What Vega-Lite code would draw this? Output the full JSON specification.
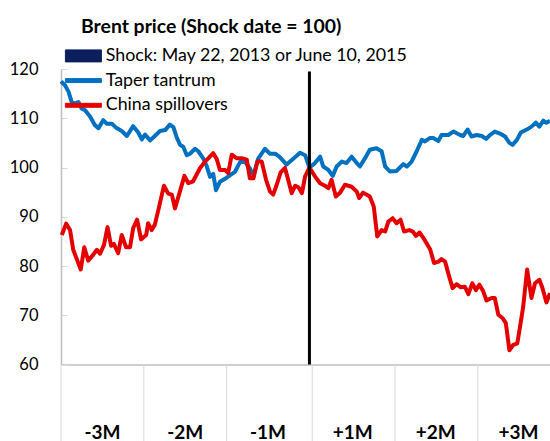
{
  "$schema": "https://vega.github.io/schema/vega-lite/v6.json",
  "autosize": "none",
  "width": 489,
  "height": 295.5,
  "padding": {"left": 61, "top": 69, "right": 0, "bottom": 76.5},
  "background": "white",
  "config": {"view": {"stroke": null}, "font": "Lato"},
  "title": {"text": "Brent price (Shock date = 100)", "anchor": "start", "frame": "group", "font": "Lato", "fontSize": 19.4, "fontWeight": "bold", "color": "black", "dx": 20, "offset": 10},
  "datasets": {
    "series": [
      {"series": "Taper tantrum", "day": -63, "value": 117.5},
      {"series": "Taper tantrum", "day": -62.0, "value": 116.7},
      {"series": "Taper tantrum", "day": -61.1, "value": 115.4},
      {"series": "Taper tantrum", "day": -60.3, "value": 113.3},
      {"series": "Taper tantrum", "day": -59.5, "value": 113.0},
      {"series": "Taper tantrum", "day": -58.6, "value": 113.3},
      {"series": "Taper tantrum", "day": -57.8, "value": 112.0},
      {"series": "Taper tantrum", "day": -56.9, "value": 111.6},
      {"series": "Taper tantrum", "day": -55.6, "value": 110.3},
      {"series": "Taper tantrum", "day": -54.4, "value": 108.6},
      {"series": "Taper tantrum", "day": -53.5, "value": 108.0},
      {"series": "Taper tantrum", "day": -52.3, "value": 109.6},
      {"series": "Taper tantrum", "day": -51.4, "value": 108.9},
      {"series": "Taper tantrum", "day": -50.1, "value": 108.9},
      {"series": "Taper tantrum", "day": -48.9, "value": 108.0},
      {"series": "Taper tantrum", "day": -47.6, "value": 107.4},
      {"series": "Taper tantrum", "day": -46.3, "value": 106.4},
      {"series": "Taper tantrum", "day": -44.7, "value": 108.4},
      {"series": "Taper tantrum", "day": -43.4, "value": 107.1},
      {"series": "Taper tantrum", "day": -42.5, "value": 105.7},
      {"series": "Taper tantrum", "day": -41.7, "value": 106.7},
      {"series": "Taper tantrum", "day": -40.4, "value": 105.5},
      {"series": "Taper tantrum", "day": -39.2, "value": 106.4},
      {"series": "Taper tantrum", "day": -37.9, "value": 107.4},
      {"series": "Taper tantrum", "day": -36.6, "value": 107.6},
      {"series": "Taper tantrum", "day": -35.4, "value": 108.7},
      {"series": "Taper tantrum", "day": -34.5, "value": 108.2},
      {"series": "Taper tantrum", "day": -33.7, "value": 106.2},
      {"series": "Taper tantrum", "day": -32.8, "value": 104.6},
      {"series": "Taper tantrum", "day": -32.0, "value": 104.2},
      {"series": "Taper tantrum", "day": -31.1, "value": 102.5},
      {"series": "Taper tantrum", "day": -30.3, "value": 102.8},
      {"series": "Taper tantrum", "day": -29.0, "value": 103.8},
      {"series": "Taper tantrum", "day": -28.2, "value": 103.3},
      {"series": "Taper tantrum", "day": -26.9, "value": 101.8},
      {"series": "Taper tantrum", "day": -26.1, "value": 100.4},
      {"series": "Taper tantrum", "day": -25.2, "value": 98.1},
      {"series": "Taper tantrum", "day": -24.4, "value": 98.7},
      {"series": "Taper tantrum", "day": -23.7, "value": 95.4},
      {"series": "Taper tantrum", "day": -22.7, "value": 97.1},
      {"series": "Taper tantrum", "day": -21.4, "value": 97.7},
      {"series": "Taper tantrum", "day": -20.2, "value": 98.4},
      {"series": "Taper tantrum", "day": -18.9, "value": 99.1},
      {"series": "Taper tantrum", "day": -17.6, "value": 101.1},
      {"series": "Taper tantrum", "day": -16.3, "value": 101.1},
      {"series": "Taper tantrum", "day": -15.1, "value": 99.8},
      {"series": "Taper tantrum", "day": -14.2, "value": 98.4},
      {"series": "Taper tantrum", "day": -13.0, "value": 101.8},
      {"series": "Taper tantrum", "day": -11.3, "value": 103.8},
      {"series": "Taper tantrum", "day": -10.0, "value": 102.8},
      {"series": "Taper tantrum", "day": -8.7, "value": 102.8},
      {"series": "Taper tantrum", "day": -7.5, "value": 102.1},
      {"series": "Taper tantrum", "day": -5.8, "value": 100.6},
      {"series": "Taper tantrum", "day": -4.1, "value": 101.8},
      {"series": "Taper tantrum", "day": -2.4, "value": 103.0},
      {"series": "Taper tantrum", "day": -1.1, "value": 102.5},
      {"series": "Taper tantrum", "day": 0, "value": 100},
      {"series": "Taper tantrum", "day": 1.4, "value": 100.9},
      {"series": "Taper tantrum", "day": 2.7, "value": 102.2},
      {"series": "Taper tantrum", "day": 3.5, "value": 100.2},
      {"series": "Taper tantrum", "day": 4.8, "value": 99.5},
      {"series": "Taper tantrum", "day": 5.9, "value": 98.3},
      {"series": "Taper tantrum", "day": 6.9, "value": 100.2},
      {"series": "Taper tantrum", "day": 8.2, "value": 101.2},
      {"series": "Taper tantrum", "day": 9.4, "value": 100.9},
      {"series": "Taper tantrum", "day": 10.7, "value": 102.2},
      {"series": "Taper tantrum", "day": 12.0, "value": 100.9},
      {"series": "Taper tantrum", "day": 12.8, "value": 100.2},
      {"series": "Taper tantrum", "day": 14.1, "value": 101.9},
      {"series": "Taper tantrum", "day": 15.3, "value": 103.6},
      {"series": "Taper tantrum", "day": 17.0, "value": 103.9},
      {"series": "Taper tantrum", "day": 18.3, "value": 103.3},
      {"series": "Taper tantrum", "day": 19.2, "value": 100.2},
      {"series": "Taper tantrum", "day": 20.4, "value": 99.2},
      {"series": "Taper tantrum", "day": 22.1, "value": 99.3},
      {"series": "Taper tantrum", "day": 23.8, "value": 100.7},
      {"series": "Taper tantrum", "day": 24.7, "value": 100.2},
      {"series": "Taper tantrum", "day": 25.9, "value": 101.2},
      {"series": "Taper tantrum", "day": 27.2, "value": 103.3},
      {"series": "Taper tantrum", "day": 28.5, "value": 105.6},
      {"series": "Taper tantrum", "day": 29.3, "value": 105.3},
      {"series": "Taper tantrum", "day": 30.6, "value": 106.0},
      {"series": "Taper tantrum", "day": 31.4, "value": 106.0},
      {"series": "Taper tantrum", "day": 32.7, "value": 105.4},
      {"series": "Taper tantrum", "day": 33.5, "value": 106.6},
      {"series": "Taper tantrum", "day": 35.2, "value": 106.6},
      {"series": "Taper tantrum", "day": 36.5, "value": 107.3},
      {"series": "Taper tantrum", "day": 38.2, "value": 106.6},
      {"series": "Taper tantrum", "day": 39.0, "value": 106.4},
      {"series": "Taper tantrum", "day": 40.1, "value": 107.7},
      {"series": "Taper tantrum", "day": 41.1, "value": 106.3},
      {"series": "Taper tantrum", "day": 42.4, "value": 106.6},
      {"series": "Taper tantrum", "day": 43.7, "value": 106.4},
      {"series": "Taper tantrum", "day": 44.8, "value": 105.8},
      {"series": "Taper tantrum", "day": 45.8, "value": 106.6},
      {"series": "Taper tantrum", "day": 47.0, "value": 107.3},
      {"series": "Taper tantrum", "day": 48.3, "value": 106.9},
      {"series": "Taper tantrum", "day": 49.6, "value": 106.3},
      {"series": "Taper tantrum", "day": 50.7, "value": 105.0},
      {"series": "Taper tantrum", "day": 51.5, "value": 104.6},
      {"series": "Taper tantrum", "day": 52.6, "value": 105.6},
      {"series": "Taper tantrum", "day": 53.6, "value": 107.1},
      {"series": "Taper tantrum", "day": 55.1, "value": 107.7},
      {"series": "Taper tantrum", "day": 56.3, "value": 108.3},
      {"series": "Taper tantrum", "day": 57.4, "value": 109.1},
      {"series": "Taper tantrum", "day": 58.3, "value": 108.3},
      {"series": "Taper tantrum", "day": 59.3, "value": 109.5},
      {"series": "Taper tantrum", "day": 60.1, "value": 109.1},
      {"series": "Taper tantrum", "day": 61.0, "value": 109.5},
      {"series": "China spillovers", "day": -62.8, "value": 86.3},
      {"series": "China spillovers", "day": -61.7, "value": 88.6},
      {"series": "China spillovers", "day": -60.7, "value": 87.3},
      {"series": "China spillovers", "day": -59.9, "value": 83.3},
      {"series": "China spillovers", "day": -58.9, "value": 81.2},
      {"series": "China spillovers", "day": -58.0, "value": 79.3},
      {"series": "China spillovers", "day": -57.1, "value": 83.8},
      {"series": "China spillovers", "day": -56.1, "value": 81.1},
      {"series": "China spillovers", "day": -54.8, "value": 82.3},
      {"series": "China spillovers", "day": -53.9, "value": 83.3},
      {"series": "China spillovers", "day": -53.1, "value": 82.5},
      {"series": "China spillovers", "day": -52.1, "value": 84.3},
      {"series": "China spillovers", "day": -51.2, "value": 87.9},
      {"series": "China spillovers", "day": -50.3, "value": 84.1},
      {"series": "China spillovers", "day": -49.6, "value": 84.5},
      {"series": "China spillovers", "day": -48.5, "value": 82.6},
      {"series": "China spillovers", "day": -47.6, "value": 86.3},
      {"series": "China spillovers", "day": -46.5, "value": 83.8},
      {"series": "China spillovers", "day": -45.5, "value": 83.8},
      {"series": "China spillovers", "day": -44.7, "value": 87.7},
      {"series": "China spillovers", "day": -43.7, "value": 89.4},
      {"series": "China spillovers", "day": -42.7, "value": 85.4},
      {"series": "China spillovers", "day": -41.4, "value": 86.3},
      {"series": "China spillovers", "day": -40.9, "value": 88.7},
      {"series": "China spillovers", "day": -40.0, "value": 87.3},
      {"series": "China spillovers", "day": -39.2, "value": 88.4},
      {"series": "China spillovers", "day": -38.1, "value": 92.1},
      {"series": "China spillovers", "day": -36.9, "value": 96.3},
      {"series": "China spillovers", "day": -35.8, "value": 94.7},
      {"series": "China spillovers", "day": -34.9, "value": 94.5},
      {"series": "China spillovers", "day": -34.1, "value": 91.7},
      {"series": "China spillovers", "day": -33.0, "value": 94.7},
      {"series": "China spillovers", "day": -31.7, "value": 98.3},
      {"series": "China spillovers", "day": -30.7, "value": 96.8},
      {"series": "China spillovers", "day": -29.5, "value": 97.2},
      {"series": "China spillovers", "day": -27.8, "value": 99.8},
      {"series": "China spillovers", "day": -26.5, "value": 101.2},
      {"series": "China spillovers", "day": -25.6, "value": 101.9},
      {"series": "China spillovers", "day": -24.4, "value": 102.9},
      {"series": "China spillovers", "day": -23.5, "value": 101.7},
      {"series": "China spillovers", "day": -22.7, "value": 99.5},
      {"series": "China spillovers", "day": -21.4, "value": 99.5},
      {"series": "China spillovers", "day": -20.6, "value": 98.9},
      {"series": "China spillovers", "day": -19.7, "value": 102.6},
      {"series": "China spillovers", "day": -18.5, "value": 101.9},
      {"series": "China spillovers", "day": -17.2, "value": 101.9},
      {"series": "China spillovers", "day": -15.9, "value": 101.6},
      {"series": "China spillovers", "day": -15.1, "value": 97.8},
      {"series": "China spillovers", "day": -14.2, "value": 97.8},
      {"series": "China spillovers", "day": -13.2, "value": 101.2},
      {"series": "China spillovers", "day": -12.1, "value": 101.2},
      {"series": "China spillovers", "day": -11.0, "value": 97.5},
      {"series": "China spillovers", "day": -10.0, "value": 95.1},
      {"series": "China spillovers", "day": -9.2, "value": 94.5},
      {"series": "China spillovers", "day": -8.3, "value": 96.5},
      {"series": "China spillovers", "day": -7.3, "value": 99.0},
      {"series": "China spillovers", "day": -6.2, "value": 99.9},
      {"series": "China spillovers", "day": -5.3, "value": 97.2},
      {"series": "China spillovers", "day": -4.5, "value": 94.8},
      {"series": "China spillovers", "day": -3.6, "value": 96.3},
      {"series": "China spillovers", "day": -2.8, "value": 96.0},
      {"series": "China spillovers", "day": -1.9, "value": 94.8},
      {"series": "China spillovers", "day": -1.1, "value": 98.2},
      {"series": "China spillovers", "day": -0.3, "value": 99.5},
      {"series": "China spillovers", "day": 0, "value": 100},
      {"series": "China spillovers", "day": 1.4, "value": 98.2},
      {"series": "China spillovers", "day": 2.7, "value": 96.8},
      {"series": "China spillovers", "day": 3.9, "value": 96.3},
      {"series": "China spillovers", "day": 4.8, "value": 95.8},
      {"series": "China spillovers", "day": 5.6, "value": 97.5},
      {"series": "China spillovers", "day": 6.7, "value": 94.1},
      {"series": "China spillovers", "day": 7.7, "value": 94.8},
      {"series": "China spillovers", "day": 9.0, "value": 96.5},
      {"series": "China spillovers", "day": 10.7, "value": 96.1},
      {"series": "China spillovers", "day": 12.0, "value": 95.1},
      {"series": "China spillovers", "day": 12.6, "value": 93.8},
      {"series": "China spillovers", "day": 13.6, "value": 94.9},
      {"series": "China spillovers", "day": 15.3, "value": 94.1},
      {"series": "China spillovers", "day": 16.3, "value": 92.1},
      {"series": "China spillovers", "day": 17.2, "value": 86.0},
      {"series": "China spillovers", "day": 18.3, "value": 87.3},
      {"series": "China spillovers", "day": 19.2, "value": 87.0},
      {"series": "China spillovers", "day": 20.0, "value": 89.0},
      {"series": "China spillovers", "day": 21.1, "value": 89.7},
      {"series": "China spillovers", "day": 22.1, "value": 88.7},
      {"series": "China spillovers", "day": 23.1, "value": 89.4},
      {"series": "China spillovers", "day": 24.0, "value": 87.0},
      {"series": "China spillovers", "day": 25.3, "value": 87.3},
      {"series": "China spillovers", "day": 26.2, "value": 87.0},
      {"series": "China spillovers", "day": 27.0, "value": 86.1},
      {"series": "China spillovers", "day": 27.9, "value": 86.8},
      {"series": "China spillovers", "day": 28.9, "value": 85.7},
      {"series": "China spillovers", "day": 30.6, "value": 83.4},
      {"series": "China spillovers", "day": 31.6, "value": 80.6},
      {"series": "China spillovers", "day": 32.7, "value": 80.9},
      {"series": "China spillovers", "day": 33.5, "value": 81.4},
      {"series": "China spillovers", "day": 34.4, "value": 80.9},
      {"series": "China spillovers", "day": 35.2, "value": 78.5},
      {"series": "China spillovers", "day": 36.3, "value": 75.5},
      {"series": "China spillovers", "day": 37.3, "value": 76.3},
      {"series": "China spillovers", "day": 38.3, "value": 75.7},
      {"series": "China spillovers", "day": 39.4, "value": 75.8},
      {"series": "China spillovers", "day": 40.3, "value": 74.3},
      {"series": "China spillovers", "day": 41.3, "value": 76.5},
      {"series": "China spillovers", "day": 42.2, "value": 75.1},
      {"series": "China spillovers", "day": 43.1, "value": 76.2},
      {"series": "China spillovers", "day": 44.1, "value": 74.8},
      {"series": "China spillovers", "day": 44.9, "value": 73.0},
      {"series": "China spillovers", "day": 46.2, "value": 73.5},
      {"series": "China spillovers", "day": 47.0, "value": 73.5},
      {"series": "China spillovers", "day": 47.9, "value": 70.1},
      {"series": "China spillovers", "day": 49.0, "value": 69.4},
      {"series": "China spillovers", "day": 49.8, "value": 68.4},
      {"series": "China spillovers", "day": 50.7, "value": 62.9},
      {"series": "China spillovers", "day": 51.7, "value": 64.0},
      {"series": "China spillovers", "day": 52.7, "value": 64.3},
      {"series": "China spillovers", "day": 53.4, "value": 67.7},
      {"series": "China spillovers", "day": 54.2, "value": 71.7},
      {"series": "China spillovers", "day": 55.2, "value": 79.3},
      {"series": "China spillovers", "day": 56.3, "value": 73.5},
      {"series": "China spillovers", "day": 57.2, "value": 76.5},
      {"series": "China spillovers", "day": 58.3, "value": 77.2},
      {"series": "China spillovers", "day": 59.1, "value": 75.5},
      {"series": "China spillovers", "day": 60.1, "value": 72.6},
      {"series": "China spillovers", "day": 61.0, "value": 74.5}
    ],
    "shock": [{"day": 0, "from": 60, "to": 119.5}],
    "separators": [
      {"day": -63, "from": 60, "to": 44},
      {"day": -42, "from": 60, "to": 44},
      {"day": -21, "from": 60, "to": 44},
      {"day": 0.7, "from": 60, "to": 44},
      {"day": 21.7, "from": 60, "to": 44},
      {"day": 42.7, "from": 60, "to": 44}
    ],
    "periods": [
      {"day": -52.5, "label": "-3M", "level": 44.9},
      {"day": -31.5, "label": "-2M", "level": 44.9},
      {"day": -10.5, "label": "-1M", "level": 44.9},
      {"day": 11, "label": "+1M", "level": 44.9},
      {"day": 32, "label": "+2M", "level": 44.9},
      {"day": 53, "label": "+3M", "level": 44.9}
    ]
  },
  "layer": [
    {
      "data": {"name": "separators"},
      "mark": {"type": "rule", "color": "#d9d9d9", "strokeWidth": 1},
      "encoding": {
        "x": {"field": "day", "type": "quantitative"},
        "y": {"field": "from", "type": "quantitative"},
        "y2": {"field": "to"}
      }
    },
    {
      "data": {"name": "periods"},
      "mark": {"type": "text", "font": "Lato", "fontSize": 19, "fontWeight": "bold", "color": "black", "baseline": "alphabetic", "align": "center"},
      "encoding": {
        "x": {"field": "day", "type": "quantitative"},
        "y": {"field": "level", "type": "quantitative"},
        "text": {"field": "label"}
      }
    },
    {
      "data": {"name": "series"},
      "mark": {"type": "line", "strokeWidth": 4, "strokeJoin": "round"},
      "encoding": {
        "x": {"field": "day", "type": "quantitative", "scale": {"domain": [-63, 61], "nice": false, "zero": false},
              "axis": {"title": null, "labels": false, "ticks": false, "grid": false, "domainColor": "#bfbfbf", "domainWidth": 1.5}},
        "y": {"field": "value", "type": "quantitative", "scale": {"domain": [60, 120], "nice": false, "zero": false},
              "axis": {"title": null, "values": [60, 70, 80, 90, 100, 110, 120], "grid": false, "domainColor": "#bfbfbf", "domainWidth": 1.5, "tickColor": "#d9d9d9", "tickSize": -6, "labelPadding": 29, "labelFont": "Lato", "labelFontSize": 16.5, "labelColor": "black"}},
        "color": {"field": "series", "type": "nominal",
          "scale": {"domain": ["Shock: May 22, 2013 or June 10, 2015", "Taper tantrum", "China spillovers"], "range": ["#0b1f5c", "#0070c0", "#e40000"]},
          "legend": {"title": null, "orient": "none", "legendX": 13.5, "legendY": -22, "padding": 0, "symbolSize": 144, "labelOffset": 13.5, "rowPadding": 5.7, "labelLimit": 500, "labelFont": "Lato", "labelFontSize": 17.8, "labelColor": "black",
            "encode": {"symbols": {"update": {
              "shape": {"signal": "datum.value === 'Shock: May 22, 2013 or June 10, 2015' ? 'M-3,-1H3V1H-3Z' : 'M-3,-0.33H3V0.33H-3Z'"},
              "fill": {"signal": "scale('color', datum.value)"},
              "stroke": {"signal": "datum.value === 'Shock: May 22, 2013 or June 10, 2015' ? 'black' : scale('color', datum.value)"},
              "strokeWidth": {"value": 1},
              "opacity": {"value": 1}
            }}}}
        }
      }
    },
    {
      "data": {"name": "shock"},
      "mark": {"type": "rule", "color": "black", "strokeWidth": 3},
      "encoding": {
        "x": {"field": "day", "type": "quantitative"},
        "y": {"field": "from", "type": "quantitative"},
        "y2": {"field": "to"}
      }
    }
  ]
}
